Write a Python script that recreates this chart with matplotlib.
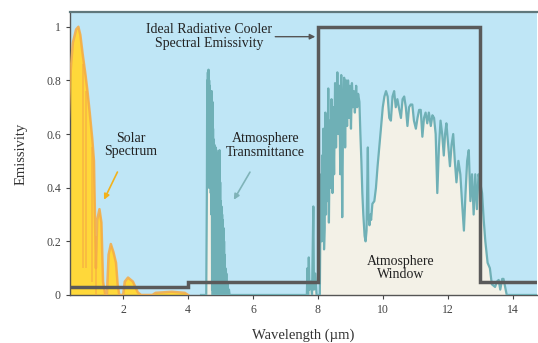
import numpy as np
import matplotlib
matplotlib.use("Agg")
import matplotlib.pyplot as plt

plt.rcParams['font.family'] = ['Liberation Serif', 'DejaVu Serif']

# solar spectrum (normalised)
solar_wl = [0.30, 0.36, 0.45, 0.55, 0.62, 0.68, 0.75, 0.84, 0.90, 0.97, 1.05, 1.10,
            1.13, 1.16, 1.20, 1.27, 1.33, 1.38, 1.45, 1.50, 1.55, 1.62, 1.70, 1.78,
            1.83, 1.88, 2.00, 2.05, 2.15, 2.30, 2.45, 2.55, 2.90, 3.00, 3.50, 3.90, 4.00]
solar_val = [0.55, 0.80, 0.94, 0.99, 1.00, 0.97, 0.90, 0.82, 0.76, 0.68, 0.58, 0.50,
             0.30, 0.10, 0.28, 0.32, 0.27, 0.05, 0.00, 0.00, 0.15, 0.19, 0.16, 0.12,
             0.04, 0.00, 0.00, 0.05, 0.065, 0.05, 0.01, 0.00, 0.00, 0.008, 0.012, 0.008, 0.00]
# darker absorption stripes inside the solar fill
stripe_wl = [0.76, 0.87, 1.03, 1.17]
stripe_top = [0.86, 0.76, 0.55, 0.22]
stripe_bot = [0.10, 0.10, 0.05, 0.00]

# atmospheric transmittance, band by band
band1_wl = [4.40, 4.56, 4.58, 4.59, 4.60, 4.61, 4.62, 4.63, 4.64, 4.65, 4.66, 4.67, 4.68, 4.69,
            4.70, 4.71, 4.72, 4.73, 4.74, 4.75, 4.76, 4.77, 4.78, 4.79, 4.80, 4.81, 4.82, 4.83,
            4.84, 4.85, 4.86, 4.87, 4.88, 4.89, 4.90, 4.91, 4.92, 4.93, 4.94, 4.95, 4.96, 4.97,
            4.98, 4.99, 5.00, 5.01, 5.02, 5.03, 5.04, 5.05, 5.06, 5.07, 5.08, 5.09, 5.10, 5.11,
            5.12, 5.13, 5.14, 5.15, 5.16, 5.18, 5.20, 5.22, 5.24, 5.26, 5.28]
band1_val = [0.00, 0.00, 0.40, 0.80, 0.45, 0.83, 0.42, 0.84, 0.40, 0.80, 0.42, 0.78, 0.40, 0.76,
             0.38, 0.74, 0.30, 0.76, 0.02, 0.72, 0.00, 0.62, 0.00, 0.58, 0.00, 0.56, 0.00, 0.55,
             0.00, 0.55, 0.00, 0.54, 0.00, 0.53, 0.00, 0.52, 0.00, 0.50, 0.00, 0.52, 0.00, 0.54,
             0.00, 0.42, 0.00, 0.35, 0.00, 0.33, 0.00, 0.30, 0.00, 0.28, 0.00, 0.25, 0.00, 0.20,
             0.00, 0.15, 0.00, 0.10, 0.00, 0.08, 0.00, 0.04, 0.00, 0.02, 0.00]
band2_wl = [7.50, 7.66, 7.68, 7.70, 7.72, 7.74, 7.78, 7.82, 7.86, 7.88, 7.92, 7.96, 8.02]
band2_val = [0.00, 0.00, 0.10, 0.00, 0.14, 0.02, 0.05, 0.00, 0.33, 0.02, 0.08, 0.00, 0.00]
window_wl = [8.06, 8.08, 8.10, 8.12, 8.13, 8.15, 8.17, 8.19, 8.21, 8.23, 8.25, 8.27, 8.29, 8.32,
             8.34, 8.37, 8.39, 8.42, 8.45, 8.47, 8.50, 8.53, 8.56, 8.60, 8.63, 8.66, 8.69, 8.72,
             8.75, 8.78, 8.81, 8.84, 8.87, 8.90, 8.93, 8.96, 8.99, 9.02, 9.05, 9.08, 9.11, 9.14,
             9.18, 9.21, 9.24, 9.28, 9.31, 9.34, 9.37, 9.40, 9.44, 9.47, 9.50, 9.52, 9.54, 9.56,
             9.59, 9.62, 9.64, 9.68, 9.74, 9.79, 9.84, 9.90, 9.95, 10.00, 10.05, 10.10,
             10.15, 10.20, 10.25, 10.30, 10.35, 10.40, 10.45, 10.51, 10.56, 10.61, 10.66, 10.71,
             10.76, 10.81, 10.86, 10.91, 10.96, 11.02, 11.07, 11.12, 11.17, 11.22, 11.27, 11.32,
             11.37, 11.42, 11.48, 11.53, 11.58, 11.63, 11.68, 11.73, 11.78, 11.83, 11.88, 11.92,
             11.96, 12.02, 12.07, 12.12, 12.17, 12.22, 12.27, 12.33, 12.39, 12.44, 12.50, 12.55,
             12.60, 12.65, 12.70, 12.75, 12.80, 12.85, 12.90, 12.95, 13.00, 13.06, 13.11, 13.16,
             13.23, 13.30, 13.36, 13.46, 13.52, 13.57, 13.62, 13.68, 13.72, 13.82, 14.00, 14.80]
window_val = [0.00, 0.30, 0.45, 0.20, 0.52, 0.30, 0.62, 0.17, 0.25, 0.68, 0.30, 0.60, 0.35, 0.77,
              0.27, 0.65, 0.40, 0.73, 0.38, 0.70, 0.45, 0.79, 0.55, 0.83, 0.60, 0.78, 0.45, 0.82,
              0.29, 0.70, 0.81, 0.55, 0.80, 0.63, 0.80, 0.66, 0.78, 0.62, 0.79, 0.70, 0.76, 0.68,
              0.78, 0.70, 0.75, 0.72, 0.60, 0.50, 0.38, 0.30, 0.22, 0.20, 0.24, 0.40, 0.55, 0.30,
              0.26, 0.30, 0.28, 0.34, 0.35, 0.40, 0.48, 0.56, 0.63, 0.70, 0.74, 0.76,
              0.74, 0.66, 0.65, 0.74, 0.76, 0.70, 0.73, 0.69, 0.66, 0.73, 0.74, 0.70,
              0.63, 0.70, 0.71, 0.71, 0.65, 0.62, 0.66, 0.69, 0.69, 0.59, 0.66, 0.68,
              0.64, 0.68, 0.63, 0.67, 0.66, 0.60, 0.38, 0.55, 0.65, 0.60, 0.52, 0.60,
              0.64, 0.55, 0.48, 0.56, 0.60, 0.50, 0.42, 0.50, 0.45, 0.35, 0.24, 0.38,
              0.50, 0.54, 0.35, 0.45, 0.30, 0.45, 0.32, 0.45, 0.42, 0.38, 0.28, 0.20,
              0.12, 0.10, 0.04, 0.03, 0.05, 0.056, 0.02, 0.06, 0.06, 0.00, 0.00, 0.00]
atm_wl = band1_wl + band2_wl + window_wl
atm_val = band1_val + band2_val + window_val

# ideal radiative cooler emissivity (step profile)
emit_wl = [0.3, 4.0, 4.0, 8.0, 8.0, 13.0, 13.0, 14.8]
emit_val = [0.03, 0.03, 0.05, 0.05, 1.0, 1.0, 0.05, 0.05]

xticks = [2, 4, 6, 8, 10, 12, 14]
yticks = [0, 0.2, 0.4, 0.6, 0.8, 1.0]
ytick_labels = ['0', '0.2', '0.4', '0.6', '0.8', '1']

fig = plt.figure(figsize=(5.38, 3.43), dpi=100)
ax = fig.add_axes([0.130, 0.140, 0.868, 0.825])
ax.set_facecolor('#bfe6f6')

# solar spectrum
ax.fill_between(solar_wl, solar_val, color='#ffd83a', lw=0, zorder=2)
ax.plot(solar_wl, solar_val, color='#f5ab45', lw=1.8, alpha=0.85, zorder=3)
ax.vlines(stripe_wl, stripe_bot, stripe_top, color='#f5ab45', lw=1.2, alpha=0.7, zorder=3)

# atmosphere transmittance
ax.fill_between(atm_wl, atm_val, color='#f3f1e7', lw=0, zorder=2)
ax.plot(atm_wl, atm_val, color='#6fb0b6', lw=1.6, zorder=3)

# ideal emitter
ax.plot(emit_wl, emit_val, color='#5a5a5a', lw=2.5, zorder=5, solid_joinstyle='miter')

ax.set_xlim(0.36, 14.75)
ax.set_ylim(0, 1.055)
ax.set_xticks(xticks)
ax.set_yticks(yticks)
ax.set_yticklabels(ytick_labels)
ax.tick_params(labelsize=8.5, colors='#444444', length=3, width=0.8)

for side in ['left', 'bottom']:
    ax.spines[side].set_color('#555555')
    ax.spines[side].set_linewidth(1.0)
ax.spines['top'].set_color('#60787c')
ax.spines['top'].set_linewidth(1.6)
ax.spines['right'].set_visible(False)

ax.set_xlabel('Wavelength (\u00b5m)', fontsize=10.5, color='#333333', labelpad=9)
ax.set_ylabel('Emissivity', fontsize=10.5, color='#333333', labelpad=13)

txt = dict(fontsize=10, color='#222222', ha='center', va='center', linespacing=1.05)
ax.annotate('Ideal Radiative Cooler\nSpectral Emissivity', xy=(7.92, 0.963), xytext=(4.66, 0.963),
            arrowprops=dict(arrowstyle='-|>', color='#555555', lw=1.0, mutation_scale=8,
                            shrinkA=34, shrinkB=0), zorder=6, **txt)
ax.annotate('Solar\nSpectrum', xy=(1.41, 0.355), xytext=(2.23, 0.56),
            arrowprops=dict(arrowstyle='-|>', color='#f2b21c', lw=1.2, mutation_scale=8,
                            shrinkA=9, shrinkB=0), zorder=6, **txt)
ax.annotate('Atmosphere\nTransmittance', xy=(5.41, 0.355), xytext=(6.39, 0.558),
            arrowprops=dict(arrowstyle='-|>', color='#7fb3b8', lw=1.2, mutation_scale=8,
                            shrinkA=9, shrinkB=0), zorder=6, **txt)
ax.text(10.55, 0.10, 'Atmosphere\nWindow', zorder=6, **txt)

fig.savefig('out.png', dpi=100)
